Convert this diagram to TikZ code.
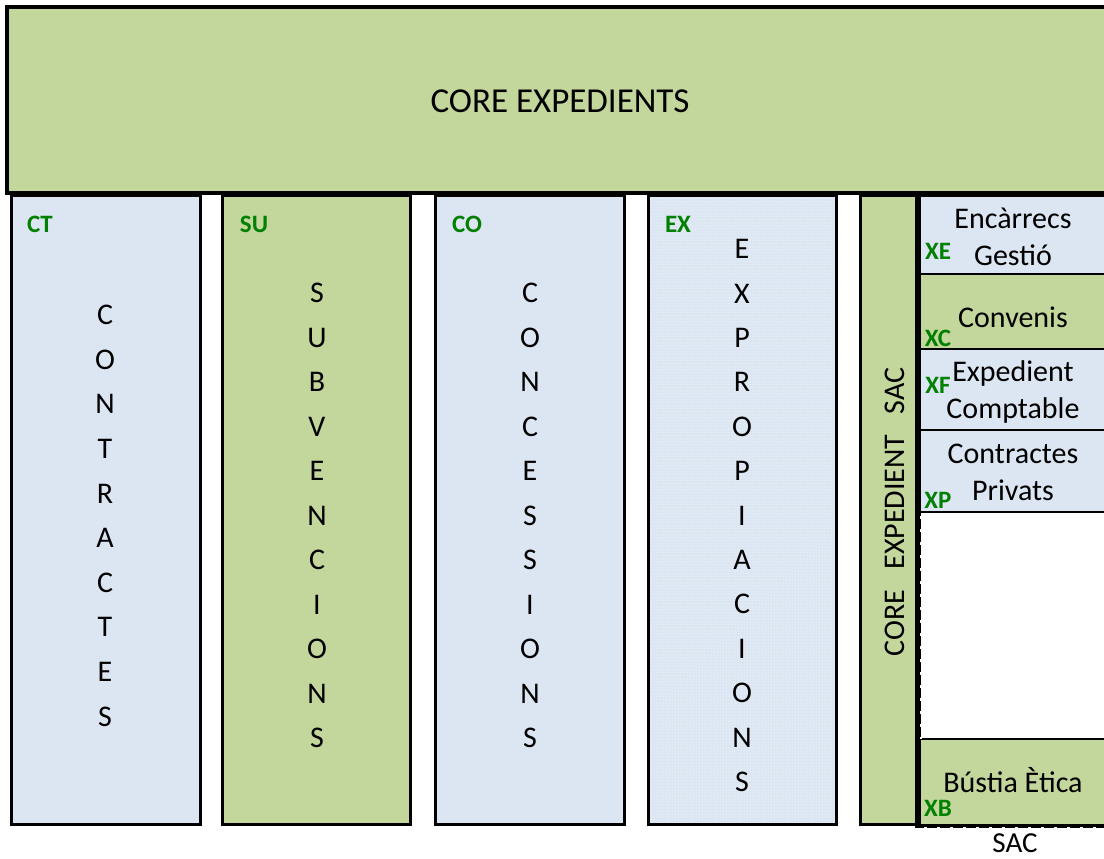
\documentclass[tikz,border=0pt]{standalone}
\usepackage{fontspec}
\setmainfont{Carlito}
\usetikzlibrary{patterns}
\definecolor{lblue}{HTML}{DCE6F2}
\definecolor{lgreen}{HTML}{C3D69B}
\definecolor{codegreen}{RGB}{0,128,0}
\begin{document}
\begin{tikzpicture}[x=1pt,y=-1pt,
  colbox/.style={draw=black,line width=3pt},
  subbox/.style={draw=black,line width=2.5pt},
  code/.style={text=codegreen,font=\fontsize{25}{27}\selectfont\bfseries,inner sep=0pt},
  letter/.style={font=\fontsize{30}{32}\selectfont,inner sep=0pt},
  boxtext/.style={font=\fontsize{30}{37}\selectfont,align=center,inner sep=0pt}]
\useasboundingbox (0,0) rectangle (1104,859);
\fill[white] (0,0) rectangle (1104,859);
% top box
\draw[fill=lgreen,line width=4pt] (7,7) rectangle (1115,193);
\node[font=\fontsize{35}{38}\selectfont] (title) at (560,101) {CORE EXPEDIENTS};
% columns
\draw[colbox,fill=lblue] (11,195) rectangle (200,824);
\draw[colbox,fill=lgreen] (222,195) rectangle (410,824);
\draw[colbox,fill=lblue] (435,195) rectangle (624,824);
\draw[colbox,fill=lblue] (648,195) rectangle (836,824);
\fill[pattern=dots,pattern color=white] (650,197) rectangle (834,822);
\draw[colbox,fill=lgreen] (860,195) rectangle (916,824);
% codes
\node[code] (ct) at (40,224) {CT};
\node[code] (su) at (254,224) {SU};
\node[code] (co) at (467,224) {CO};
\node[code] (ex) at (678,224) {EX};
% vertical letters
\foreach \l [count=\i from 0] in {C,O,N,T,R,A,C,T,E,S}
  \node[letter] (ctl\i) at (105,315+44.6*\i) {\l};
\foreach \l [count=\i from 0] in {S,U,B,V,E,N,C,I,O,N,S}
  \node[letter] (sul\i) at (317,293+44.5*\i) {\l};
\foreach \l [count=\i from 0] in {C,O,N,C,E,S,S,I,O,N,S}
  \node[letter] (col\i) at (530,293+44.5*\i) {\l};
\foreach \l [count=\i from 0] in {E,X,P,R,O,P,I,A,C,I,O,N,S}
  \node[letter] (exl\i) at (742,249+44.4*\i) {\l};
% core expedient sac
\node[rotate=90,font=\fontsize{30}{32}\selectfont] (ces) at (895,512) {CORE\ \ \ EXPEDIENT\ \ \ SAC};
% right boxes
\draw[subbox,fill=lblue] (918,196) rectangle (1115,274);
\draw[subbox,fill=lgreen] (918,274) rectangle (1115,349);
\draw[subbox,fill=lblue] (918,349) rectangle (1115,430);
\draw[subbox,fill=lblue] (918,430) rectangle (1115,512);
\draw[subbox,fill=lgreen] (918,739) rectangle (1115,825);
\node[boxtext] (xe) at (1013,237) {Encàrrecs\\Gestió};
\node[boxtext] (xc) at (1013,317) {Convenis};
\node[boxtext] (xf) at (1013,392) {Expedient\\Comptable};
\node[boxtext] (xp) at (1013,472) {Contractes\\Privats};
\node[boxtext] (xb) at (1013,780) {Bústia Ètica};
\node[code] (xel) at (938,251) {XE};
\node[code] (xcl) at (938,338) {XC};
\node[code] (xfl) at (938,385) {XF};
\node[code] (xpl) at (938,500) {XP};
\node[code] (xbl) at (938,808) {XB};
% thick separator
\draw[line width=6pt] (918,193) -- (918,512);
\draw[line width=6pt] (918,739) -- (918,828);
\draw[line width=5pt] (918,512) -- (918,739);
\draw[white,line width=2pt,dash pattern=on 3pt off 10pt] (920.5,516) -- (920.5,739);
\draw[line width=4.5pt] (916,826) -- (1110,826);
\draw[white,line width=2pt,dash pattern=on 3pt off 10pt] (924,827.5) -- (1110,827.5);
\node[font=\fontsize{29}{32}\selectfont] (sac) at (1015,843) {SAC};
\end{tikzpicture}
\end{document}
